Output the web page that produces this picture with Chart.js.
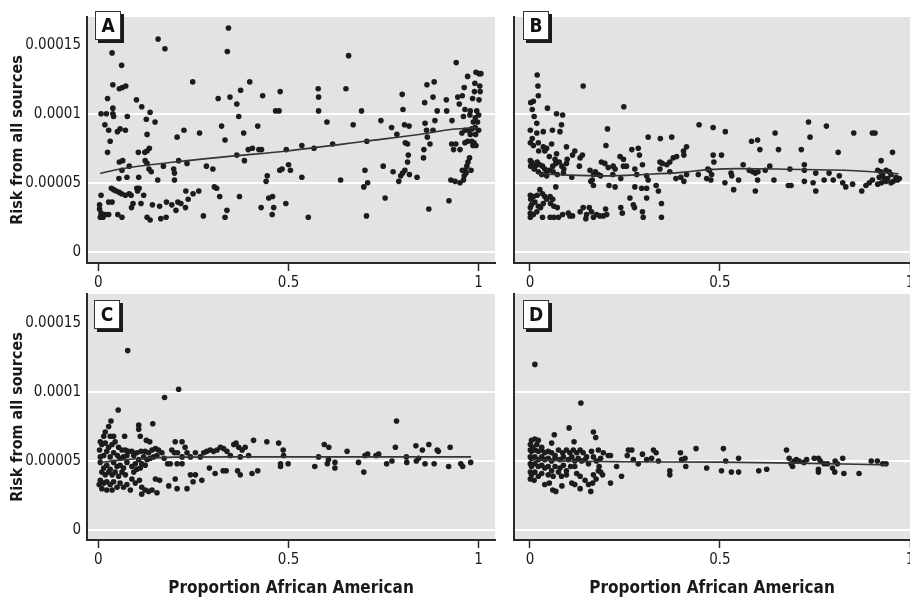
<!DOCTYPE html>
<html lang="en">
<head>
<meta charset="UTF-8">
<title>Risk from all sources by proportion African American</title>
<style>
  html, body { margin: 0; padding: 0; background: #fff; overflow: hidden; }
  body { position: relative; width: 910px; height: 599px; }
  canvas { position: absolute; }
  .tag {
    position: absolute; z-index: 2; box-sizing: border-box;
    width: 26px; height: 29px; background: #fff; border: 1px solid #333;
    box-shadow: 3px 3px 0 #1a1a1a; color: #111; text-align: center;
    font: bold 19px "Liberation Sans Narrow", "DejaVu Sans Condensed", "Arial Narrow", sans-serif;
    line-height: 27px;
  }
</style>
</head>
<body>
<canvas id="chartA" width="500" height="290" style="left:0;top:0"></canvas>
<canvas id="chartB" width="430" height="290" style="left:500px;top:0"></canvas>
<canvas id="chartC" width="500" height="309" style="left:0;top:290px"></canvas>
<canvas id="chartD" width="430" height="309" style="left:500px;top:290px"></canvas>
<div class="tag" style="left:95px;top:11px">A</div>
<div class="tag" style="left:523px;top:11px">B</div>
<div class="tag" style="left:94px;top:300px">C</div>
<div class="tag" style="left:523px;top:300px">D</div>

<script src="https://cdn.jsdelivr.net/npm/chart.js@4.4.0/dist/chart.umd.min.js"></script>
<script>
// risk values below are in units of 1e-5
var RISK_UNIT = 1e-5;

var xTicks = [0, 0.5, 1];
var xTickLabels = ['0', '0.5', '1'];
var yTicks = [0, 0.00005, 0.0001, 0.00015];
var yTickLabels = ['0', '0.00005', '0.0001', '0.00015'];
var yGridAt = [0, 0.00005, 0.0001];

// panel A
var aX = [0.157,0.175,0.342,0.339,0.036,0.061,0.038,0.055,0.063,0.072,0.248,0.024,0.100,0.114,0.038,0.007,0.021,0.038,0.040,0.076,
  0.136,0.126,0.149,0.017,0.027,0.050,0.057,0.071,0.225,0.266,0.207,0.031,0.128,0.024,0.134,0.128,0.105,0.122,0.055,0.064,
  0.123,0.128,0.211,0.233,0.081,0.062,0.133,0.139,0.171,0.198,0.200,0.054,0.075,0.106,0.156,0.200,0.284,0.301,0.034,0.040,
  0.047,0.055,0.061,0.071,0.081,0.101,0.107,0.103,0.007,0.119,0.086,0.230,0.236,0.249,0.264,0.305,0.311,0.319,0.027,0.036,
  0.091,0.112,0.179,0.193,0.209,0.217,0.204,0.229,0.003,0.003,0.007,0.005,0.012,0.018,0.027,0.051,0.062,0.087,0.128,0.136,
  0.164,0.178,0.142,0.161,0.276,0.338,0.333,0.371,0.315,0.346,0.374,0.398,0.432,0.478,0.364,0.369,0.466,0.475,0.324,0.382,
  0.419,0.333,0.394,0.405,0.422,0.429,0.494,0.384,0.364,0.444,0.441,0.477,0.483,0.500,0.505,0.448,0.458,0.428,0.461,0.457,
  0.493,
  0.658,0.941,0.578,0.651,0.579,0.864,0.883,0.799,0.858,0.880,0.915,0.945,0.957,0.949,0.962,0.971,0.993,1.001,1.006,0.990,
  1.003,0.989,1.004,0.984,1.001,0.579,0.692,0.801,0.891,0.916,0.964,0.978,0.995,0.601,0.670,0.743,0.771,0.805,0.817,0.859,
  0.885,0.930,0.960,0.977,0.991,1.000,0.986,0.997,0.785,0.863,0.880,0.865,0.956,0.964,0.973,0.982,0.991,1.000,0.978,0.992,
  0.535,0.567,0.616,0.706,0.807,0.813,0.872,0.929,0.940,0.964,0.971,0.982,0.988,0.993,0.985,0.856,0.934,0.951,0.815,0.855,
  0.813,0.976,0.972,0.969,0.535,0.637,0.701,0.749,0.775,0.806,0.800,0.795,0.818,0.838,0.790,0.708,0.698,0.957,0.964,0.967,
  0.980,0.962,0.960,0.951,0.938,0.927,0.754,0.922,0.869,0.552,0.705];
var aY = [15.4,14.7,16.2,14.5,14.4,13.5,12.1,11.8,11.9,12.0,12.3,11.1,11.0,10.5,10.4,10.0,10.0,10.0,9.8,9.8,
  10.1,9.6,9.4,9.2,8.8,8.7,8.9,8.8,8.8,8.6,8.3,8.0,8.5,7.2,7.5,7.3,7.2,7.2,6.5,6.6,
  6.6,6.4,6.6,6.4,6.2,5.9,6.0,5.8,6.2,6.0,5.7,5.3,5.4,5.4,5.2,5.2,6.2,6.0,4.6,4.5,
  4.4,4.3,4.2,4.1,4.2,4.6,4.6,4.4,4.1,4.1,4.1,4.4,3.8,4.2,4.4,4.7,4.6,4.0,3.6,3.6,
  3.5,3.5,3.6,3.4,3.6,3.5,3.0,3.2,3.4,3.1,2.8,2.5,2.5,2.7,2.7,2.7,2.5,3.2,2.5,2.3,
  2.4,2.5,3.4,3.3,2.6,3.0,2.5,4.0,11.1,11.2,11.7,12.3,11.3,11.6,10.7,9.8,10.2,10.2,9.1,8.6,
  9.1,8.1,7.4,7.5,7.4,7.4,7.4,6.6,7.0,5.5,5.1,5.9,6.0,6.3,5.9,3.9,4.0,3.2,3.2,2.7,
  3.5,
  14.2,13.7,11.8,11.8,11.2,12.1,12.3,11.4,10.8,11.2,11.0,11.2,11.3,10.7,11.9,12.7,13.0,12.9,12.9,12.2,
  12.0,11.6,11.6,11.1,11.0,10.2,10.2,10.3,10.2,10.2,10.3,10.2,10.2,9.4,9.2,9.5,9.0,9.2,9.1,9.3,
  9.5,9.5,9.8,9.9,9.7,9.9,9.4,9.4,8.5,8.8,8.8,8.3,8.6,8.8,8.8,8.9,9.0,8.8,8.5,8.5,
  7.7,7.5,7.8,8.0,7.9,7.8,7.8,7.8,7.8,7.9,8.0,8.0,7.9,7.7,7.7,7.4,7.4,7.4,7.0,6.8,
  6.5,6.8,6.5,6.2,5.4,5.2,5.9,6.2,5.8,5.9,5.7,5.5,5.6,5.4,5.1,5.0,4.7,5.9,5.9,5.7,
  5.9,5.5,5.2,5.0,5.1,5.2,3.9,3.7,3.1,2.5,2.6];
var aFitX = [0.005, 0.057, 0.207, 0.338, 0.496, 0.706, 0.864, 0.916, 0.995];
var aFitY = [5.68, 6.0, 6.52, 6.89, 7.3, 8.02, 8.58, 8.82, 8.99];

// panel B
var bX = [0.019,0.021,0.140,0.022,0.247,0.002,0.009,0.046,0.070,0.086,0.006,0.011,0.018,0.083,0.079,0.059,0.035,0.204,0.001,0.018,
  0.006,0.001,0.009,0.022,0.035,0.044,0.057,0.039,0.023,0.311,0.343,0.373,0.445,0.200,0.268,0.285,0.288,0.237,0.246,0.096,
  0.118,0.138,0.132,0.112,0.098,0.070,0.066,0.051,0.001,0.004,0.009,0.014,0.002,0.011,0.019,0.026,0.033,0.039,0.044,0.051,
  0.060,0.068,0.077,0.084,0.089,0.096,0.061,0.044,0.031,0.022,0.072,0.088,0.110,0.130,0.188,0.197,0.206,0.219,0.224,0.246,
  0.254,0.276,0.296,0.342,0.348,0.360,0.368,0.377,0.386,0.404,0.412,0.405,0.158,0.167,0.172,0.180,0.186,0.160,0.167,0.164,
  0.218,0.239,0.281,0.307,0.311,0.342,0.368,0.384,0.397,0.405,0.412,0.443,0.468,0.465,0.478,0.208,0.224,0.276,0.294,0.307,
  0.332,0.338,0.263,0.272,0.275,0.307,0.346,0.001,0.002,0.009,0.019,0.026,0.033,0.039,0.044,0.053,0.060,0.068,0.063,0.072,
  0.054,0.035,0.022,0.028,0.013,0.004,0.001,0.001,0.001,0.009,0.018,0.033,0.053,0.063,0.075,0.086,0.101,0.105,0.112,0.132,
  0.140,0.149,0.147,0.156,0.162,0.167,0.175,0.184,0.193,0.202,0.199,0.239,0.243,0.296,0.298,0.346,
  0.733,0.780,0.482,0.514,0.645,0.852,0.901,0.908,0.583,0.599,0.737,0.605,0.654,0.714,0.811,0.954,0.482,0.504,0.484,0.924,
  0.561,0.631,0.722,0.472,0.529,0.531,0.577,0.586,0.593,0.600,0.619,0.684,0.722,0.752,0.787,0.814,0.915,0.923,0.937,0.945,
  0.950,0.928,0.919,0.932,0.941,0.963,0.972,0.967,0.956,0.950,0.937,0.925,0.476,0.513,0.549,0.599,0.642,0.722,0.745,0.774,
  0.798,0.823,0.831,0.849,0.884,0.893,0.901,0.915,0.536,0.593,0.680,0.687,0.752,0.873];
var bY = [12.8,12.0,12.0,11.3,10.5,10.8,10.9,10.4,10.0,9.9,10.3,9.8,9.3,9.2,8.7,8.8,8.7,8.9,8.8,8.6,
  8.2,7.9,7.7,7.9,7.6,7.5,7.8,7.3,7.3,8.3,8.2,8.3,9.2,7.7,7.4,7.5,7.0,6.9,6.7,7.6,
  7.3,7.0,6.8,7.0,6.7,7.1,6.7,6.9,6.6,6.5,6.3,6.2,6.2,6.0,6.5,6.3,6.2,6.0,5.8,5.9,
  6.2,6.4,6.5,6.2,6.0,6.4,5.8,5.5,5.6,5.8,5.6,5.7,5.4,6.2,6.5,6.4,6.1,6.2,6.0,6.2,
  6.2,6.0,6.3,6.5,6.4,6.3,6.5,6.8,6.9,7.3,7.6,7.0,5.9,5.6,5.8,5.6,5.5,5.1,4.8,5.2,
  5.6,5.3,5.6,5.5,5.2,6.0,5.8,5.3,5.4,5.1,5.6,5.6,6.0,5.3,5.6,4.8,4.7,4.7,4.6,4.6,
  4.8,4.4,3.9,3.4,3.2,3.9,3.5,4.1,3.8,4.0,4.1,4.5,4.2,4.0,3.8,4.0,3.8,4.7,3.3,3.2,
  3.5,3.5,3.3,3.2,3.6,3.4,3.2,2.8,2.5,2.7,2.9,2.5,2.5,2.5,2.5,2.7,2.8,2.6,2.6,2.9,
  3.2,2.7,2.4,3.2,2.9,2.5,2.7,2.6,2.6,2.7,3.1,3.2,2.8,2.9,2.5,2.5,
  9.4,9.1,9.0,8.7,8.6,8.6,8.6,8.6,8.0,8.1,8.3,7.4,7.4,7.4,7.2,7.2,7.0,7.0,6.5,6.6,
  6.3,6.2,6.3,5.9,5.7,5.5,5.9,5.8,5.7,5.8,5.9,6.0,5.9,5.7,5.7,5.5,5.9,5.8,5.9,5.8,
  5.6,5.6,5.4,5.3,5.3,5.4,5.3,5.2,5.1,5.0,5.1,5.0,5.2,5.0,5.2,5.2,5.2,5.1,5.0,5.2,
  5.2,5.0,4.7,4.9,4.8,5.0,5.2,4.9,4.5,4.4,4.8,4.8,4.4,4.4];
var bFitX = [0.02, 0.1, 0.2, 0.3, 0.4, 0.47, 0.55, 0.65, 0.8, 0.9, 0.97];
var bFitY = [5.65, 5.55, 5.5, 5.6, 5.75, 5.95, 6.02, 6.0, 5.92, 5.8, 5.65];

// panel C
var cX = [0.077,0.211,0.174,0.052,0.033,0.106,0.143,0.027,0.106,0.110,0.126,0.135,0.018,0.014,0.040,0.069,0.031,0.005,0.009,0.003,
  0.018,0.027,0.036,0.044,0.053,0.062,0.071,0.079,0.022,0.014,0.005,0.031,0.040,0.050,0.057,0.066,0.075,0.088,0.093,0.101,
  0.112,0.123,0.132,0.141,0.150,0.158,0.154,0.145,0.136,0.128,0.119,0.106,0.097,0.088,0.093,0.101,0.110,0.114,0.123,0.167,
  0.173,0.182,0.189,0.202,0.220,0.228,0.193,0.200,0.208,0.220,0.233,0.242,0.255,0.268,0.277,0.285,0.294,0.303,0.312,0.321,
  0.329,0.338,0.347,0.356,0.362,0.369,0.378,0.386,0.395,0.373,0.408,0.443,0.474,0.486,0.487,0.479,0.479,0.499,0.005,0.014,
  0.022,0.031,0.040,0.049,0.057,0.066,0.075,0.009,0.018,0.027,0.036,0.044,0.053,0.062,0.071,0.005,0.014,0.022,0.031,0.040,
  0.049,0.057,0.066,0.075,0.084,0.002,0.009,0.022,0.036,0.088,0.097,0.108,0.114,0.123,0.114,0.132,0.141,0.154,0.161,0.150,
  0.185,0.207,0.202,0.233,0.249,0.242,0.255,0.272,0.292,0.307,0.328,0.336,0.366,0.373,0.404,0.419,0.207,0.220,
  0.784,0.594,0.606,0.654,0.579,0.605,0.602,0.622,0.622,0.569,0.684,0.698,0.701,0.708,0.730,0.737,0.758,0.772,0.781,0.810,
  0.811,0.835,0.836,0.842,0.852,0.859,0.869,0.883,0.891,0.894,0.921,0.925,0.953,0.958,0.979];
var cY = [13.0,10.2,9.6,8.7,7.9,7.6,7.7,7.5,7.3,6.8,6.5,6.4,7.1,6.8,6.8,6.8,6.8,6.4,6.2,5.8,
  6.3,6.0,6.2,6.4,6.0,5.8,5.8,5.7,5.7,5.4,5.3,5.3,5.6,5.4,5.2,5.3,5.4,5.7,5.4,5.6,
  5.7,5.7,5.6,5.8,5.9,5.8,5.4,5.3,5.2,5.1,5.3,5.1,4.8,4.6,4.2,4.4,4.5,4.8,4.7,5.6,
  5.2,4.8,4.8,6.4,6.4,6.0,5.8,5.6,5.6,5.3,5.6,5.3,5.6,5.3,5.6,5.7,5.8,5.7,5.8,6.0,
  5.9,5.7,5.4,6.2,6.3,6.0,5.8,6.0,5.4,5.3,6.5,6.4,6.3,5.8,5.4,4.8,4.6,4.8,4.9,4.5,
  4.7,4.4,4.9,4.6,4.7,4.5,4.9,4.2,4.0,4.2,4.0,4.2,3.9,4.2,4.0,3.6,3.4,3.5,3.3,3.5,
  3.1,3.4,3.1,3.3,2.9,3.3,3.0,2.9,2.9,3.7,3.4,3.6,3.1,2.9,2.6,2.8,2.9,2.7,3.6,3.7,
  3.2,3.0,3.7,3.0,3.5,4.0,4.0,3.6,4.5,4.1,4.3,4.3,4.3,4.0,4.1,4.3,4.8,4.8,
  7.9,6.2,6.0,5.7,5.3,5.1,4.8,4.9,4.5,4.6,4.9,4.2,5.4,5.5,5.4,5.5,4.8,5.0,6.0,5.3,
  4.9,6.1,5.0,5.2,5.8,4.8,6.2,4.8,5.8,5.7,4.6,6.0,4.8,4.6,4.9];
var cFitX = [0.005, 0.05, 0.12, 0.2, 0.35, 0.6, 0.8, 0.98];
var cFitY = [4.9, 5.05, 5.2, 5.28, 5.3, 5.3, 5.3, 5.3];

// panel D
var dX = [0.013,0.134,0.103,0.064,0.167,0.173,0.116,0.057,0.013,0.004,0.022,0.001,0.007,0.018,0.031,0.001,0.004,0.013,0.022,0.031,
  0.039,0.048,0.057,0.066,0.075,0.086,0.096,0.105,0.114,0.123,0.132,0.140,0.149,0.162,0.180,0.193,0.206,0.212,0.001,0.004,
  0.013,0.022,0.031,0.039,0.048,0.057,0.066,0.079,0.088,0.101,0.110,0.118,0.127,0.136,0.145,0.154,0.167,0.175,0.186,0.001,
  0.004,0.013,0.022,0.031,0.039,0.048,0.057,0.066,0.079,0.088,0.096,0.107,0.118,0.001,0.004,0.013,0.022,0.031,0.048,0.061,
  0.075,0.083,0.096,0.123,0.132,0.145,0.167,0.180,0.186,0.191,0.182,0.174,0.001,0.011,0.039,0.051,0.060,0.068,0.084,0.110,
  0.118,0.132,0.154,0.160,0.165,0.212,0.241,0.228,0.259,0.268,0.256,0.272,0.285,0.296,0.307,0.325,0.332,0.338,0.320,0.368,
  0.368,0.396,0.399,0.408,0.410,0.437,0.465,
  0.509,0.675,0.515,0.549,0.504,0.530,0.549,0.602,0.623,0.682,0.687,0.691,0.695,0.701,0.708,0.721,0.728,0.748,0.759,0.764,
  0.759,0.759,0.774,0.783,0.796,0.802,0.803,0.809,0.823,0.826,0.866,0.898,0.914,0.928,0.937];
var dY = [12.0,9.2,7.4,6.9,7.1,6.7,6.4,6.3,6.6,6.5,6.5,6.2,6.0,6.2,6.0,5.8,5.7,5.8,5.7,5.8,
  5.6,5.7,5.6,5.4,5.8,5.6,5.8,5.6,5.8,5.6,5.8,5.6,5.3,5.7,5.8,5.6,5.4,5.4,5.3,5.2,
  5.3,5.1,5.3,5.1,5.2,5.0,5.2,5.1,5.3,5.1,5.3,5.0,5.2,5.0,5.1,4.8,5.3,5.0,5.2,4.8,
  4.6,4.8,4.6,4.7,4.5,4.6,4.3,4.6,4.5,4.7,4.3,4.6,4.6,4.2,4.0,4.2,3.9,4.1,4.0,3.9,
  4.2,3.9,4.0,4.1,3.9,3.6,4.0,4.3,4.2,4.0,4.6,3.7,3.7,3.6,3.3,3.4,2.9,2.8,3.2,3.4,
  3.3,3.0,3.3,2.8,3.4,3.4,3.9,4.6,5.8,5.8,5.4,5.1,4.8,5.5,5.1,5.8,5.6,5.0,5.2,4.3,
  4.0,5.6,5.1,5.2,4.6,5.9,4.5,
  5.9,5.8,5.0,5.2,4.3,4.2,4.2,4.3,4.4,5.2,4.8,4.6,5.0,5.1,5.0,4.9,5.1,5.2,5.2,5.0,
  4.2,4.4,4.8,4.8,4.5,4.2,5.0,4.8,5.2,4.1,4.1,5.0,5.0,4.8,4.8];
var dFitX = [0.005, 0.1, 0.25, 0.5, 0.7, 0.94];
var dFitY = [5.1, 5.0, 4.95, 4.92, 4.85, 4.72];

var FONT = '"Liberation Sans Narrow", "DejaVu Sans Condensed", "Arial Narrow", sans-serif';
var INK = '#1a1a1a';

Chart.defaults.font.family = FONT;
Chart.defaults.color = INK;

function toPoints(xs, ys) {
  return xs.map(function (x, i) { return { x: x, y: ys[i] * RISK_UNIT }; });
}

// gray panel background behind the grid
var panelBg = {
  id: 'panelBg',
  beforeDraw: function (chart) {
    var a = chart.chartArea, ctx = chart.ctx;
    ctx.save();
    ctx.fillStyle = '#e3e3e3';
    ctx.fillRect(a.left, a.top, a.right - a.left, a.bottom - a.top);
    ctx.restore();
  }
};

function makePanel(id, xs, ys, fitX, fitY, cfg) {
  new Chart(document.getElementById(id), {
    type: 'scatter',
    data: {
      datasets: [
        {
          data: toPoints(fitX, fitY),
          showLine: true,
          borderColor: '#353535',
          borderWidth: 1.6,
          pointRadius: 0,
          cubicInterpolationMode: 'monotone',
          order: 0
        },
        {
          data: toPoints(xs, ys),
          pointRadius: 2.8,
          pointBackgroundColor: '#1c1c1c',
          pointBorderWidth: 0,
          order: 1
        }
      ]
    },
    options: {
      responsive: false,
      animation: false,
      devicePixelRatio: 1,
      layout: { padding: cfg.pad },
      plugins: { legend: { display: false }, tooltip: { enabled: false } },
      scales: {
        x: {
          type: 'linear',
          min: cfg.xMin,
          max: cfg.xMax,
          afterBuildTicks: function (s) { s.ticks = xTicks.map(function (v) { return { value: v }; }); },
          afterFit: function (s) { s.height = cfg.xH; s.paddingLeft = 0; s.paddingRight = 0; },
          grid: { drawOnChartArea: false, drawTicks: true, tickLength: 8, tickColor: '#2a2a2a', tickWidth: 1.5 },
          border: { display: true, color: '#2a2a2a', width: 2 },
          ticks: {
            color: INK, font: { size: 15 }, padding: 3, maxRotation: 0,
            callback: function (v, i) { return xTickLabels[i]; }
          },
          title: {
            display: cfg.xTitle, text: 'Proportion African American', color: INK,
            font: { size: 17, weight: 'bold' }, padding: 0
          }
        },
        y: {
          type: 'linear',
          min: cfg.yMin,
          max: cfg.yMax,
          afterBuildTicks: function (s) { s.ticks = yTicks.map(function (v) { return { value: v }; }); },
          afterFit: function (s) { s.width = cfg.yW; s.paddingTop = 0; s.paddingBottom = 0; },
          grid: {
            drawTicks: false, lineWidth: 2,
            color: function (c) {
              return c.tick && yGridAt.indexOf(c.tick.value) >= 0 ? '#ffffff' : 'rgba(0,0,0,0)';
            }
          },
          border: { display: true, color: '#2a2a2a', width: 2 },
          ticks: {
            display: cfg.yLabels, color: INK, font: { size: 15 }, padding: 6,
            callback: function (v, i) { return yTickLabels[i]; }
          },
          title: {
            display: cfg.yLabels, text: 'Risk from all sources', color: INK,
            font: { size: 16, weight: 'bold' }, padding: { top: 8, bottom: 0 }
          }
        }
      }
    },
    plugins: [panelBg]
  });
}

makePanel('chartA', aX, aY, aFitX, aFitY, {
  pad: { left: 0, top: 17, right: 5, bottom: 0 }, xH: 27, yW: 87,
  xMin: -0.03, xMax: 1.043, yMin: -0.0000081, yMax: 0.00017, xTitle: false, yLabels: true
});
makePanel('chartB', bX, bY, bFitX, bFitY, {
  pad: { left: 0, top: 17, right: 20, bottom: 0 }, xH: 27, yW: 14,
  xMin: -0.042, xMax: 1.0, yMin: -0.0000081, yMax: 0.00017, xTitle: false, yLabels: false
});
makePanel('chartC', cX, cY, cFitX, cFitY, {
  pad: { left: 0, top: 4, right: 5, bottom: 0 }, xH: 59, yW: 87,
  xMin: -0.03, xMax: 1.043, yMin: -0.0000072, yMax: 0.000171, xTitle: true, yLabels: true
});
makePanel('chartD', dX, dY, dFitX, dFitY, {
  pad: { left: 0, top: 4, right: 20, bottom: 0 }, xH: 59, yW: 14,
  xMin: -0.042, xMax: 1.0, yMin: -0.0000072, yMax: 0.000171, xTitle: true, yLabels: false
});
</script>
</body>
</html>
